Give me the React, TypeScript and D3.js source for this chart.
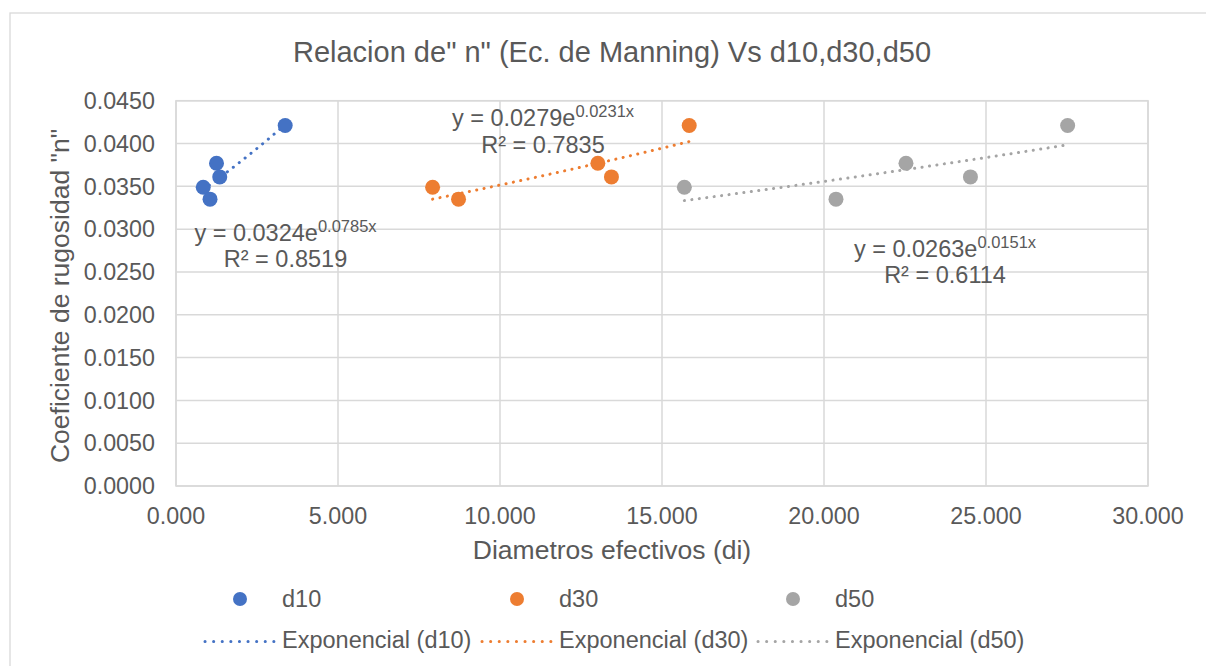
import React from "react";
import * as d3 from "d3";

const nValues = [0.0349, 0.0335, 0.0377, 0.0361, 0.0421];
const d10X = [0.84, 1.05, 1.25, 1.35, 3.37];
const d30X = [7.92, 8.72, 13.02, 13.44, 15.84];
const d50X = [15.69, 20.37, 22.53, 24.52, 27.52];
const seriesNames = ["d10", "d30", "d50"];
const seriesColors = ["#4472C4", "#ED7D31", "#A5A5A5"];
const fitA = [0.0324, 0.0279, 0.0263];
const fitB = [0.0785, 0.0231, 0.0151];
const fitA_label = ["0.0324", "0.0279", "0.0263"];
const fitB_label = ["0.0785", "0.0231", "0.0151"];
const r2Labels = ["0.8519", "0.7835", "0.6114"];
const xTicks = [0, 5, 10, 15, 20, 25, 30];
const yTicks = [0, 0.005, 0.01, 0.015, 0.02, 0.025, 0.03, 0.035, 0.04, 0.045];

const W = 1206;
const H = 666;
const FONT = "'Liberation Sans', Arial, sans-serif";
const TXT = "#595959";
const GRID = "#d9d9d9";

export default function App() {
  const x = d3.scaleLinear().domain([0, 30]).range([176, 1148]);
  const y = d3.scaleLinear().domain([0, 0.045]).range([486, 100.7]);
  const xs = [d10X, d30X, d50X];

  const eqPos = [
    { cx: 285.5, y: 240.5 },
    { cx: 543, y: 126 },
    { cx: 945, y: 256.5 },
  ];
  const legendMarkerX = [240, 517, 793];
  const legendLineX = [205, 482, 758];

  const line = d3
    .line<[number, number]>()
    .x((d) => x(d[0]))
    .y((d) => y(d[1]));

  return (
    <svg
      width={W}
      height={H}
      style={{ position: "absolute", left: 0, top: 0, background: "#fff" }}
      fontFamily={FONT}
    >
      <rect x={10} y={13} width={1300} height={800} fill="#fff" stroke={GRID} strokeWidth={1.3} />
      <text x={612} y={62} textAnchor="middle" fontSize={29} fill={TXT}>
        Relacion de" n" (Ec. de Manning) Vs d10,d30,d50
      </text>

      {/* gridlines */}
      {yTicks.map((t, i) => (
        <line key={"gy" + i} x1={176} x2={1148} y1={y(t)} y2={y(t)} stroke={GRID} strokeWidth={1.5} />
      ))}
      {xTicks.map((t, i) => (
        <line key={"gx" + i} x1={x(t)} x2={x(t)} y1={100.7} y2={486} stroke={GRID} strokeWidth={1.5} />
      ))}
      <rect x={176} y={100.7} width={1148 - 176} height={486 - 100.7} fill="none" stroke={GRID} strokeWidth={1.5} />

      {/* tick labels */}
      {yTicks.map((t, i) => (
        <text key={"ty" + i} x={155} y={y(t) + 8.3} textAnchor="end" fontSize={23.3} fill={TXT}>
          {d3.format(".4f")(t)}
        </text>
      ))}
      {xTicks.map((t, i) => (
        <text key={"tx" + i} x={x(t)} y={523.5} textAnchor="middle" fontSize={23.3} fill={TXT}>
          {d3.format(".3f")(t)}
        </text>
      ))}

      {/* axis titles */}
      <text x={612} y={559} textAnchor="middle" fontSize={26.5} fill={TXT}>
        Diametros efectivos (di)
      </text>
      <text transform="translate(69,296) rotate(-90)" textAnchor="middle" fontSize={26.5} fill={TXT}>
        Coeficiente de rugosidad "n"
      </text>

      {/* trendlines */}
      {xs.map((arr, si) => {
        const lo = d3.min(arr) as number;
        const hi = d3.max(arr) as number;
        const pts: [number, number][] = d3
          .range(0, 41)
          .map((k) => lo + ((hi - lo) * k) / 40)
          .map((v) => [v, fitA[si] * Math.exp(fitB[si] * v)]);
        return (
          <path
            key={"tl" + si}
            d={line(pts) as string}
            fill="none"
            stroke={seriesColors[si]}
            strokeWidth={3}
            strokeLinecap="round"
            strokeDasharray="0.1 7.4"
          />
        );
      })}

      {/* points */}
      {xs.map((arr, si) =>
        arr.map((v, i) => (
          <circle key={"p" + si + "-" + i} cx={x(v)} cy={y(nValues[i])} r={7.5} fill={seriesColors[si]} />
        ))
      )}

      {/* equations */}
      {eqPos.map((p, si) => (
        <g key={"eq" + si} fill={TXT}>
          <text x={p.cx} y={p.y} textAnchor="middle" fontSize={23.5}>
            {"y = " + fitA_label[si] + "e"}
            <tspan fontSize={16.5} dy={-9}>
              {fitB_label[si] + "x"}
            </tspan>
          </text>
          <text x={p.cx} y={p.y + 26.5} textAnchor="middle" fontSize={23.5}>
            {"R² = " + r2Labels[si]}
          </text>
        </g>
      ))}

      {/* legend */}
      {seriesNames.map((name, si) => (
        <g key={"lg" + si}>
          <circle cx={legendMarkerX[si]} cy={599} r={7} fill={seriesColors[si]} />
          <text x={legendMarkerX[si] + 42} y={607} fontSize={23.5} fill={TXT}>
            {name}
          </text>
          <line
            x1={legendLineX[si]}
            x2={legendLineX[si] + 69}
            y1={641.5}
            y2={641.5}
            stroke={seriesColors[si]}
            strokeWidth={3}
            strokeLinecap="round"
            strokeDasharray="0.1 8.5"
          />
          <text x={legendLineX[si] + 77} y={647.5} fontSize={23.5} fill={TXT}>
            {"Exponencial (" + name + ")"}
          </text>
        </g>
      ))}
    </svg>
  );
}
